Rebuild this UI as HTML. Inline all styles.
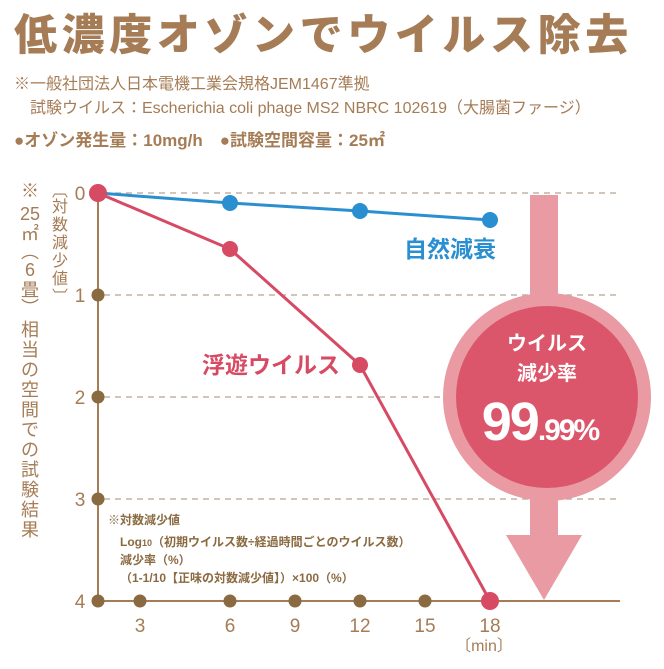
<!DOCTYPE html>
<html><head><meta charset="utf-8"><style>
body{margin:0;background:#fff;}
svg text{font-family:"Liberation Sans","Noto Sans CJK JP",sans-serif;}
</style></head><body>
<svg width="664" height="664" viewBox="0 0 664 664" xmlns="http://www.w3.org/2000/svg">
<text x="14" y="50" font-size="43" font-weight="900" fill="#a57c55" letter-spacing="4.6">低濃度オゾンでウイルス除去</text>
<text x="14" y="89" font-size="16" fill="#a57c55">※一般社団法人日本電機工業会規格JEM1467準拠</text>
<text x="30" y="113" font-size="16" fill="#a57c55">試験ウイルス：Escherichia coli phage MS2 NBRC 102619（大腸菌ファージ）</text>
<text x="14" y="146" font-size="17" font-weight="bold" fill="#a57c55">●オゾン発生量：10mg/h　●試験空間容量：25㎡</text>
<g fill="#a57c55" font-size="18" text-anchor="middle">
<text x="30" y="197">※</text><text x="30" y="220">25</text><text x="30" y="240">㎡</text>
<text x="30" y="258">︵</text><text x="30" y="276">6</text><text x="30" y="296">畳</text><text x="30" y="314">︶</text>
<text x="30" y="336">相</text><text x="30" y="356">当</text><text x="30" y="376">の</text><text x="30" y="396">空</text><text x="30" y="416">間</text><text x="30" y="436">で</text><text x="30" y="456">の</text><text x="30" y="476">試</text><text x="30" y="496">験</text><text x="30" y="516">結</text><text x="30" y="536">果</text>
</g>
<g fill="#a57c55" font-size="16" text-anchor="middle">
<text x="60" y="196">︹</text><text x="60" y="212">対</text><text x="60" y="230">数</text><text x="60" y="248">減</text><text x="60" y="266">少</text><text x="60" y="284">値</text><text x="60" y="302">︺</text>
</g>
<g stroke="#b8a590" stroke-width="1.2" stroke-dasharray="6,5">
<line x1="104" y1="193" x2="620" y2="193"/><line x1="104" y1="295" x2="620" y2="295"/>
<line x1="104" y1="397" x2="620" y2="397"/><line x1="104" y1="499" x2="620" y2="499"/>
</g>
<line x1="98" y1="193" x2="98" y2="601" stroke="#a57c55" stroke-width="2"/>
<line x1="98" y1="601" x2="620" y2="601" stroke="#a57c55" stroke-width="2"/>
<g fill="#8a6a40">
<circle cx="98" cy="295" r="6.5"/><circle cx="98" cy="397" r="6.5"/><circle cx="98" cy="499" r="6.5"/><circle cx="98" cy="601" r="6.5"/>
<circle cx="140" cy="601" r="6.5"/><circle cx="230" cy="601" r="6.5"/><circle cx="295" cy="601" r="6.5"/><circle cx="360" cy="601" r="6.5"/><circle cx="425" cy="601" r="6.5"/>
</g>
<g fill="#a57c55" font-size="19" text-anchor="middle">
<text x="80" y="200">0</text><text x="80" y="302">1</text><text x="80" y="404">2</text><text x="80" y="506">3</text><text x="80" y="608">4</text>
<text x="140" y="632">3</text><text x="230" y="632">6</text><text x="295" y="632">9</text><text x="360" y="632">12</text><text x="425" y="632">15</text><text x="490" y="632">18</text>
<text x="484" y="651" font-size="16">〔min〕</text>
</g>
<g fill="#8a6a40" font-size="12" font-weight="bold">
<text x="108" y="524">※対数減少値</text>
<text x="120" y="546">Log<tspan font-size="9">10</tspan>（初期ウイルス数÷経過時間ごとのウイルス数）</text>
<text x="120" y="564">減少率（%）</text>
<text x="120" y="582">（1-1/10【正味の対数減少値】）×100（%）</text>
</g>
<rect x="530" y="195" width="28" height="345" fill="#e99aa2"/>
<polygon points="506,535 582,535 544,600" fill="#e99aa2"/>
<circle cx="547" cy="397" r="104" fill="#e99aa2"/>
<circle cx="547" cy="397" r="91" fill="#dc566b"/>
<text x="547" y="350" font-size="20" font-weight="bold" fill="#fff" text-anchor="middle">ウイルス</text>
<text x="547" y="380" font-size="20" font-weight="bold" fill="#fff" text-anchor="middle">減少率</text>
<text x="540" y="440" font-size="54" font-weight="bold" fill="#fff" text-anchor="middle" letter-spacing="-2">99<tspan font-size="30">.99%</tspan></text>
<polyline points="98,193 230,203 360,211 490,220" fill="none" stroke="#2a8fd0" stroke-width="3"/>
<g fill="#2a8fd0"><circle cx="230" cy="203" r="8"/><circle cx="360" cy="211" r="8"/><circle cx="490" cy="220" r="8"/></g>
<text x="404" y="257" font-size="23" font-weight="bold" fill="#2a8fd0">自然減衰</text>
<polyline points="98,193 230,249 360,365 490,601" fill="none" stroke="#d74a64" stroke-width="3"/>
<g fill="#d74a64"><circle cx="98" cy="193" r="9"/><circle cx="230" cy="249" r="8"/><circle cx="360" cy="365" r="8"/><circle cx="490" cy="601" r="9"/></g>
<text x="202" y="373" font-size="23" font-weight="bold" fill="#d74a64">浮遊ウイルス</text>
</svg>
</body></html>
